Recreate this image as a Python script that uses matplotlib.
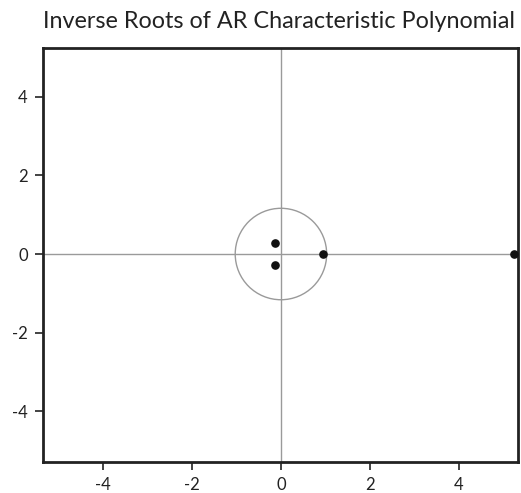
import matplotlib
matplotlib.use("Agg")
import matplotlib.pyplot as plt
import numpy as np
from matplotlib.patches import Ellipse

# Inverse roots (real, imaginary)
raices_re = [-0.135, -0.135, 0.95, 5.25]
raices_im = [0.29, -0.29, 0.0, 0.0]
ticks = [-4, -2, 0, 2, 4]
titulo = "Inverse Roots of AR Characteristic Polynomial"

plt.rcParams["font.family"] = ["Lato", "DejaVu Sans"]

W, H = 521, 493
fig = plt.figure(figsize=(W / 100, H / 100), dpi=100)
ax = fig.add_axes([43 / W, 31 / H, 475 / W, 414 / H])

xlim = (-5.36, 5.34)
ylim = (-5.29, 5.24)
ax.set_xlim(*xlim)
ax.set_ylim(*ylim)

ax.axhline(0, color="#9a9a9a", lw=1.0, zorder=1)
ax.axvline(0, color="#9a9a9a", lw=1.0, zorder=1)

# unit circle drawn round in pixel space
px_x = 475 / (xlim[1] - xlim[0])
px_y = 414 / (ylim[1] - ylim[0])
circulo = Ellipse((0, 0), 2.06, 2.06 * px_x / px_y, fill=False,
                  edgecolor="#9a9a9a", lw=1.0, zorder=2)
ax.add_patch(circulo)

ax.scatter(raices_re, raices_im, s=27, color="#111111", zorder=3, clip_on=False)

ax.set_xticks(ticks)
ax.set_yticks(ticks)
ax.set_xticklabels([str(t) for t in ticks])
ax.set_yticklabels([str(t) for t in ticks])
ax.tick_params(direction="out", length=6, width=1.2, colors="#222222",
               labelsize=12, pad=5, top=False, right=False)
for s in ax.spines.values():
    s.set_linewidth(2.0)
    s.set_color("#222222")

fig.text(279 / W, 1 - 21 / H, titulo, ha="center", va="center",
         fontsize=16.8, color="#222222")

fig.savefig("out.png", dpi=100)
